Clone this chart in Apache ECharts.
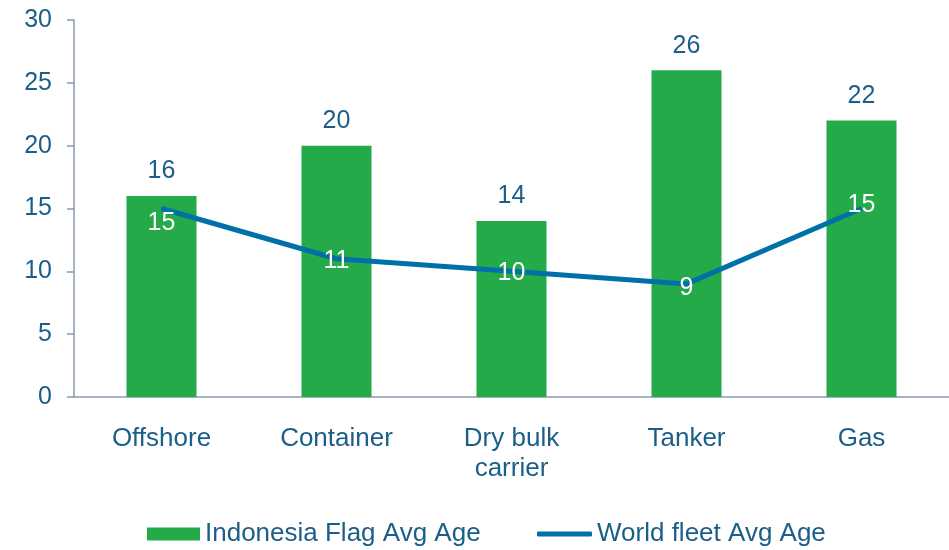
<!DOCTYPE html>
<html>
<head>
<meta charset="utf-8">
<script src="https://cdn.jsdelivr.net/npm/echarts@6/dist/echarts.min.js"></script>
<style>
  html, body { margin: 0; padding: 0; background: #fff; }
  #chart { width: 949px; height: 550px; }
</style>
</head>
<body>
<div id="chart"></div>
<script>
// Vessel types along the x axis
const categories = ['Offshore', 'Container', 'Dry bulk\ncarrier', 'Tanker', 'Gas'];
// Average age (years) of Indonesian-flagged vessels
const indonesiaAge = [16, 20, 14, 26, 22];
// Average age (years) of the world fleet
const worldAge = [15, 11, 10, 9, 15];
// Y axis ticks
const yTicks = [0, 5, 10, 15, 20, 25, 30];

const barName = 'Indonesia Flag Avg Age';
const lineName = 'World fleet Avg Age';

const textColor = '#1B5E88';
const axisColor = '#8A9BB0';
const barColor = '#24AA48';
const lineColor = '#0070A8';
const font = '"Liberation Sans", Arial, sans-serif';

// Nudges for the white value labels sitting on the world-fleet line
const lineLabelShift = [15, 2, 2, 4, -3];

const chart = echarts.init(document.getElementById('chart'), null, { renderer: 'canvas' });

chart.setOption({
  animation: false,
  textStyle: { fontFamily: font },
  grid: { left: 74, right: 0, top: 20, bottom: 153 },
  legend: [
    {
      left: 142, top: 516,
      itemWidth: 53, itemHeight: 13,
      icon: 'rect',
      data: [barName],
      textStyle: { fontSize: 26, color: textColor, fontFamily: font }
    },
    {
      left: 532, top: 516,
      itemWidth: 55, itemHeight: 5,
      icon: 'roundRect',
      data: [lineName],
      textStyle: { fontSize: 26, color: textColor, fontFamily: font }
    }
  ],
  xAxis: {
    type: 'category',
    data: categories,
    axisLine: { lineStyle: { color: axisColor, width: 1.5 } },
    axisTick: { show: false },
    axisLabel: { color: textColor, fontSize: 26, margin: 27, lineHeight: 30, fontFamily: font }
  },
  yAxis: {
    type: 'value',
    min: yTicks[0],
    max: yTicks[yTicks.length - 1],
    interval: yTicks[1] - yTicks[0],
    splitLine: { show: false },
    axisLine: { show: true, lineStyle: { color: axisColor, width: 1.5 } },
    axisTick: { show: true, length: 7, lineStyle: { color: axisColor, width: 1.5 } },
    axisLabel: { color: textColor, fontSize: 25, margin: 22, fontFamily: font }
  },
  series: [
    {
      name: barName,
      type: 'bar',
      data: indonesiaAge,
      barWidth: '40%',
      itemStyle: { color: barColor },
      label: {
        show: true, position: 'top', distance: 12,
        color: textColor, fontSize: 25, fontFamily: font
      }
    },
    {
      name: lineName,
      type: 'line',
      data: worldAge.map((v, i) => ({ value: v, label: { offset: [0, lineLabelShift[i]] } })),
      symbol: 'circle',
      symbolSize: 1,
      showSymbol: true,
      lineStyle: { color: lineColor, width: 5 },
      itemStyle: { color: lineColor },
      label: {
        show: true, position: 'inside',
        color: '#ffffff', fontSize: 25, fontFamily: font
      },
      z: 3
    }
  ]
});
</script>
</body>
</html>
